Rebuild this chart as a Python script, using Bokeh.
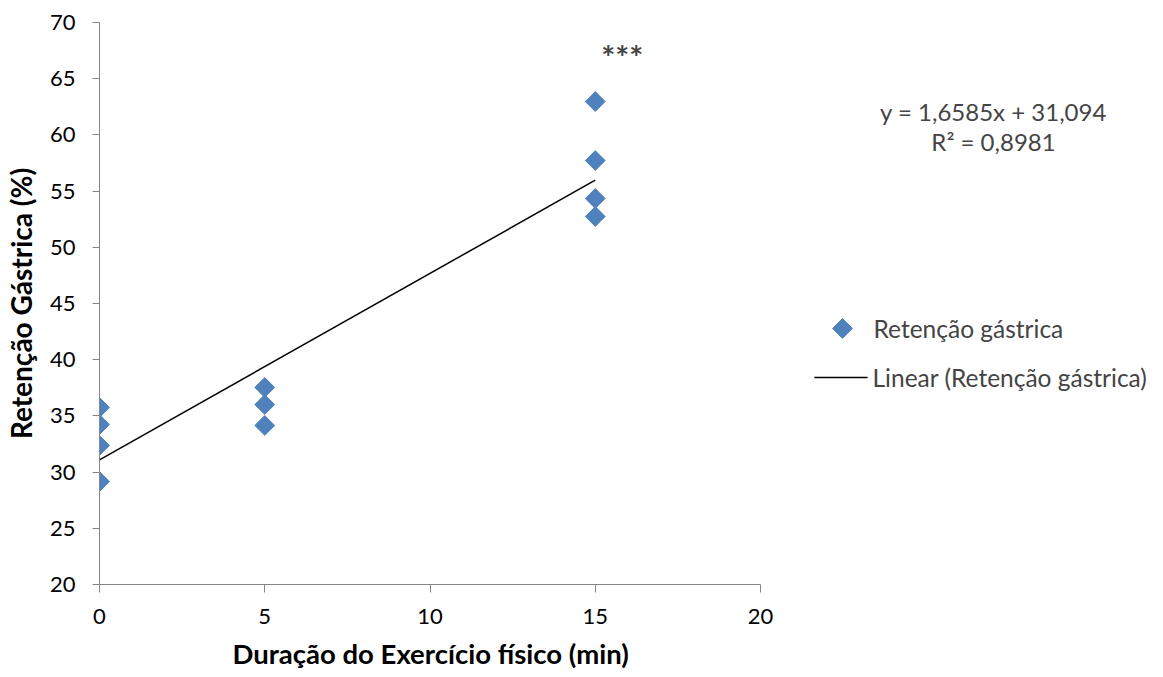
from bokeh.plotting import figure
from bokeh.models import Range1d, Label, FixedTicker, Title
from bokeh.embed import file_html
from bokeh.resources import INLINE

# Data
dur_0 = [0, 0, 0, 0]
ret_0 = [35.75, 34.23, 32.37, 29.16]
dur_5 = [5, 5, 5]
ret_5 = [37.53, 36.01, 34.15]
dur_15 = [15, 15, 15, 15]
ret_15 = [62.97, 57.72, 54.34, 52.74]
slope = 1.6585
intercept = 31.094
trend_x = [0, 15]
x_ticks = [0, 5, 10, 15, 20]
y_ticks = [20, 25, 30, 35, 40, 45, 50, 55, 60, 65, 70]
series_name = "Retenção gástrica"
trend_name = "Linear (Retenção gástrica)"
eq_text = "y = 1,6585x + 31,094"
r2_text = "R² = 0,8981"

xs = dur_0 + dur_5 + dur_15
ys = ret_0 + ret_5 + ret_15
trend_y = [intercept + slope * x for x in trend_x]

FONT = "Lato"
BLUE = "#4F81BD"
AXIS = "#868686"

FRAME_W = 1056
x_end = FRAME_W * 20 / 661

p = figure(frame_width=FRAME_W, frame_height=562, output_backend="svg",
           toolbar_location=None, x_range=Range1d(0, x_end), y_range=Range1d(20, 70),
           min_border_left=99, min_border_top=22, min_border_right=0, min_border_bottom=0)
p.outline_line_color = None
p.xgrid.visible = False
p.ygrid.visible = False

p.scatter(xs, ys, marker="square", size=14, angle=0.785398,
          fill_color=BLUE, line_color=BLUE)
p.line(trend_x, trend_y, line_color="black", line_width=1.5)

for ax in (p.xaxis[0], p.yaxis[0]):
    ax.axis_line_color = AXIS
    ax.major_tick_line_color = AXIS
    ax.major_tick_out = 7
    ax.major_tick_in = 0
    ax.minor_tick_line_color = None
    ax.major_label_text_font = FONT
    ax.major_label_text_font_size = "22px"
    ax.major_label_text_color = "black"
    ax.axis_label_text_font = FONT
    ax.axis_label_text_font_style = "bold"
    ax.axis_label_text_color = "black"

p.xaxis.bounds = (0, 20)
p.xaxis.major_tick_out = 8
p.xaxis.ticker = FixedTicker(ticks=x_ticks)
p.yaxis.ticker = FixedTicker(ticks=y_ticks)
p.yaxis.axis_label = "Retenção Gástrica (%)"
p.yaxis.axis_label_text_font_size = "28px"
p.xaxis.major_label_standoff = 16
p.yaxis.major_label_standoff = 17
p.yaxis.axis_label_standoff = 9

p.add_layout(Title(text="Duração do Exercício físico (min)", align="left", offset=133,
                   text_font=FONT, text_font_size="27.5px", text_font_style="bold",
                   text_color="black", standoff=16), "below")

p.add_layout(Label(x=15.82, y=66.9, text="***", text_font=FONT, text_font_size="33px",
                   text_font_style="bold", text_align="center", text_baseline="middle"))
p.add_layout(Label(x=27.05, y=62.1, text=eq_text, text_font=FONT,
                   text_font_size="24px", text_align="center", text_baseline="middle"))
p.add_layout(Label(x=27.05, y=59.4, text=r2_text, text_font=FONT,
                   text_font_size="24px", text_align="center", text_baseline="middle"))

# legend (drawn manually, to keep the rotated-square marker)
p.scatter([22.48], [42.78], marker="square", size=14, angle=0.785398,
          fill_color=BLUE, line_color=BLUE)
p.line([21.63, 23.24], [38.42, 38.42], line_color="black", line_width=1.5)
p.add_layout(Label(x=23.42, y=42.78, text=series_name, text_font=FONT,
                   text_font_size="24.5px", text_align="left", text_baseline="middle"))
p.add_layout(Label(x=23.39, y=38.42, text=trend_name, text_font=FONT,
                   text_font_size="24.5px", text_align="left", text_baseline="middle"))

open("out.html", "w").write(file_html(p, INLINE))
